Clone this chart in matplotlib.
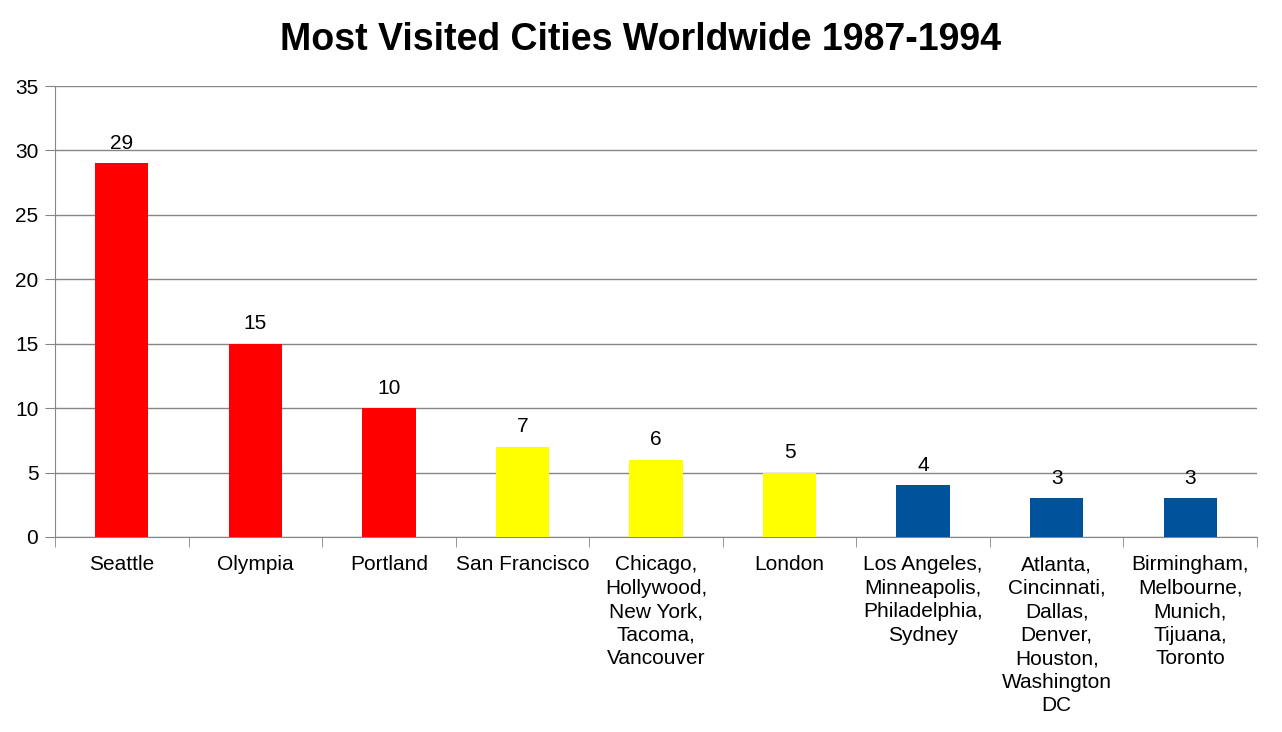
import numpy as np
import matplotlib.pyplot as plt

plt.rcParams['font.family'] = ['Liberation Sans', 'DejaVu Sans']

cities = ['Seattle', 'Olympia', 'Portland', 'San Francisco',
          'Chicago,\nHollywood,\nNew York,\nTacoma,\nVancouver',
          'London',
          'Los Angeles,\nMinneapolis,\nPhiladelphia,\nSydney',
          'Atlanta,\nCincinnati,\nDallas,\nDenver,\nHouston,\nWashington\nDC',
          'Birmingham,\nMelbourne,\nMunich,\nTijuana,\nToronto']
visits = [29, 15, 10, 7, 6, 5, 4, 3, 3]
colors = ['#FF0000'] * 3 + ['#FFFF00'] * 3 + ['#00529B'] * 3

fig = plt.figure(figsize=(12.82, 7.32), dpi=100)
ax = fig.add_axes([55 / 1282, 1 - 537 / 732, 1202 / 1282, 451 / 732])

x = np.arange(len(cities))
ax.bar(x, visits, width=0.4, color=colors, zorder=3)
for xi, v in zip(x, visits):
    ax.text(xi, v + 0.8, str(v), ha='center', va='bottom', fontsize=15)

ax.set_xlim(-0.5, len(cities) - 0.5)
ax.set_ylim(0, 35)
ax.set_yticks(range(0, 36, 5))
ax.yaxis.grid(True, color='#868686', linewidth=1, zorder=0)

ax.set_xticks(x)
ax.set_xticklabels(cities, fontsize=15, linespacing=1.3)
ax.set_xticks(np.arange(-0.5, len(cities), 1), minor=True)
ax.tick_params(axis='x', which='major', length=0, pad=13)
ax.tick_params(axis='x', which='minor', length=7, color='#868686', direction='out')
ax.tick_params(axis='y', length=7, color='#868686', labelsize=15, pad=5)

for side in ['top', 'right']:
    ax.spines[side].set_visible(False)
for side in ['left', 'bottom']:
    ax.spines[side].set_color('#868686')

fig.text(0.5, 1 - 40 / 732, 'Most Visited Cities Worldwide 1987-1994',
         ha='center', va='center', fontsize=27, fontweight='bold')

fig.savefig('out.png', dpi=100, facecolor='white')
